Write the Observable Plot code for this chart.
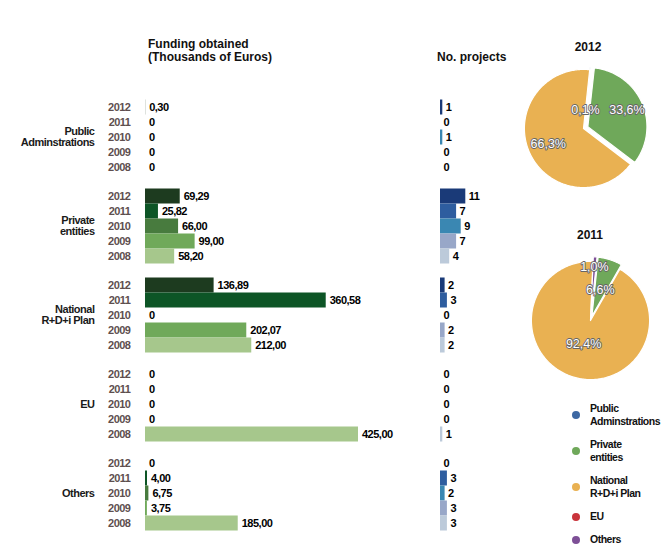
<!DOCTYPE html>
<html><head><meta charset="utf-8">
<script src="https://cdn.jsdelivr.net/npm/d3@7"></script>
<script src="https://cdn.jsdelivr.net/npm/@observablehq/plot@0.6"></script>
<style>
body{margin:0;background:#fff;}
#chart{position:relative;width:665px;height:560px;overflow:hidden;font-family:"Liberation Sans",Arial,sans-serif;}
.abs{position:absolute;}
.hdr{position:absolute;font-weight:bold;font-size:12px;line-height:13px;color:#111;white-space:nowrap;}
.legend{position:absolute;left:572px;top:402px;font-family:"Liberation Sans",Arial,sans-serif;font-weight:bold;font-size:10.5px;letter-spacing:-0.5px;line-height:13px;color:#111;}
.legend .item{display:flex;align-items:center;margin-bottom:10px;}
.legend .dot{width:8px;height:8px;border-radius:50%;margin-right:10px;flex:none;}
</style></head>
<body><div id="chart"></div>
<script>
// ---------- data ----------
const categories = ["Public Adminstrations", "Private entities", "National R+D+i Plan", "EU", "Others"];
const categoryLabels = ["Public\nAdminstrations", "Private\nentities", "National\nR+D+i Plan", "EU", "Others"];
const years = ["2012", "2011", "2010", "2009", "2008"];

// Funding obtained (thousands of euros), order 2012..2008
const fundingPublic   = [0.30, 0, 0, 0, 0];
const fundingPrivate  = [69.29, 25.82, 66.00, 99.00, 58.20];
const fundingNational = [136.89, 360.58, 0, 202.07, 212.00];
const fundingEU       = [0, 0, 0, 0, 425.00];
const fundingOthers   = [0, 4.00, 6.75, 3.75, 185.00];

// Number of projects, order 2012..2008
const projectsPublic   = [1, 0, 1, 0, 0];
const projectsPrivate  = [11, 7, 9, 7, 4];
const projectsNational = [2, 3, 0, 2, 2];
const projectsEU       = [0, 0, 0, 0, 1];
const projectsOthers   = [0, 3, 2, 3, 3];

// Pie shares (%), order of categories
const share2012 = [0.1, 33.6, 66.3, 0, 0];
const share2011 = [0, 6.6, 92.4, 0, 1.0];

// ---------- styles ----------
const greens = ["#1d3b1f", "#0d5526", "#487b3e", "#70a95a", "#a6c78c"];
const blues  = ["#1a3a78", "#2e5d9f", "#3a87b2", "#98a7c8", "#bccada"];
const catColors = ["#3d68a3", "#6fa85a", "#e9b152", "#c9343b", "#7d4f96"];
const FONT = '"Liberation Sans",Arial,sans-serif';

const fundingSeries = [fundingPublic, fundingPrivate, fundingNational, fundingEU, fundingOthers];
const projectSeries = [projectsPublic, projectsPrivate, projectsNational, projectsEU, projectsOthers];
const rows = categories.flatMap((c, i) => years.map((y, j) => ({
  category: c, year: y, funding: fundingSeries[i][j], projects: projectSeries[i][j]
})));
const fmt = v => v === 0 ? "0" : v.toFixed(2).replace(".", ",");
const labelOf = Object.fromEntries(categories.map((c, i) => [c, categoryLabels[i]]));

const chart = document.getElementById("chart");
const baseStyle = {fontFamily: FONT, fontSize: "11px", fontWeight: "bold", letterSpacing: "-0.5px", background: "transparent", overflow: "visible"};
function place(el, left, top) {
  const d = document.createElement("div");
  d.className = "abs"; d.style.left = left + "px"; d.style.top = top + "px";
  d.appendChild(el); chart.appendChild(d);
}
const common = {
  width: 665, height: 560, marginTop: 97.5, marginBottom: 29.5,
  y: {domain: years, padding: 0},
  fy: {domain: categories, paddingInner: 0.162, paddingOuter: 0},
  style: baseStyle
};

// ---------- funding bars ----------
const funding = Plot.plot({
  ...common,
  marginLeft: 145, marginRight: 307,
  x: {domain: [0, 425], axis: null},
  color: {domain: years, range: greens},
  marks: [
    Plot.barX(rows, {fy: "category", y: "year", x: "funding", fill: "year"}),
    Plot.text(rows, {fy: "category", y: "year", x: "funding", text: d => fmt(d.funding), dx: 3.5, textAnchor: "start", fill: "#000"}),
    Plot.axisY({tickSize: 0, tickPadding: 15, label: null, color: "#5e4f4f"}),
    Plot.axisFy({anchor: "left", tickSize: 0, tickPadding: 51, label: null, color: "#1a1a1a", tickFormat: d => labelOf[d]})
  ]
});
place(funding, 0, 0);

// ---------- project bars ----------
const projects = Plot.plot({
  ...common,
  marginLeft: 440, marginRight: 199.7,
  x: {domain: [0, 11], axis: null},
  color: {domain: years, range: blues},
  marks: [
    Plot.barX(rows, {fy: "category", y: "year", x: "projects", fill: "year"}),
    Plot.text(rows, {fy: "category", y: "year", x: "projects", text: d => String(d.projects), dx: 3, textAnchor: "start", fill: "#000"}),
    Plot.axisY({ticks: [], tickSize: 0, label: null}),
    Plot.axisFy({ticks: [], tickSize: 0, label: null})
  ]
});
place(projects, 0, 0);

// ---------- pies ----------
const startAngle = 6;               // degrees clockwise from top
const explodeOffset = 0.08;          // fraction of radius
const labelRadius = {"2012": [0.31, 0.8, 0.65, 0.65, 0.65], "2011": [0.65, 0.54, 0.42, 0.65, 0.9]};
function pie(shares, key) {
  const total = d3.sum(shares);
  const pts = [], labels = [];
  let a = startAngle;
  shares.forEach((v, i) => {
    if (v <= 0) return;
    const span = v / total * 360, a0 = a, a1 = a + span; a = a1;
    const mid = (a0 + a1) / 2 * Math.PI / 180;
    const off = i === 2 ? 0 : explodeOffset;
    const ox = off * Math.sin(mid), oy = off * Math.cos(mid);
    const cat = categories[i];
    pts.push({cat, x: ox, y: oy});
    const n = Math.max(2, Math.ceil(span));
    for (let k = 0; k <= n; k++) {
      const ang = (a0 + span * k / n) * Math.PI / 180;
      pts.push({cat, x: ox + Math.sin(ang), y: oy + Math.cos(ang)});
    }
    pts.push({cat, x: ox, y: oy});
    const r = labelRadius[key][i];
    labels.push({x: r * Math.sin(mid), y: r * Math.cos(mid), text: v.toFixed(1).replace(".", ",") + "%"});
  });
  return Plot.plot({
    width: 130, height: 130, margin: 0,
    x: {domain: [-1.1, 1.1], axis: null},
    y: {domain: [-1.1, 1.1], axis: null},
    color: {domain: categories, range: catColors},
    style: {background: "transparent", overflow: "visible", fontFamily: FONT},
    marks: [
      Plot.line(pts, {x: "x", y: "y", z: "cat", fill: "cat", stroke: "white", strokeWidth: 1.2, curve: "linear"}),
      Plot.text(labels, {x: "x", y: "y", text: "text", fill: "white", stroke: "#666", strokeWidth: 1.8, paintOrder: "stroke", fontSize: 12.5})
    ]
  });
}
place(pie(share2012, "2012"), 583 - 65, 128 - 65);
place(pie(share2011, "2011"), 590 - 65, 320 - 65);

// ---------- headers ----------
function header(html, left, top, center) {
  const d = document.createElement("div");
  d.className = "hdr"; d.innerHTML = html;
  d.style.left = left + "px"; d.style.top = top + "px";
  if (center) d.style.transform = "translateX(-50%)";
  chart.appendChild(d);
}
header("Funding obtained<br>(Thousands of Euros)", 148, 37.5);
header("No. projects", 437, 50.5);
header("2012", 588, 41, true);
header("2011", 590, 229, true);

// ---------- legend ----------
const legend = document.createElement("div");
legend.className = "legend";
categories.forEach((c, i) => {
  const it = document.createElement("div"); it.className = "item";
  const dot = document.createElement("div"); dot.className = "dot"; dot.style.background = catColors[i];
  const t = document.createElement("div"); t.innerHTML = categoryLabels[i].replace("\n", "<br>");
  it.appendChild(dot); it.appendChild(t); legend.appendChild(it);
});
chart.appendChild(legend);
</script>
</body></html>
